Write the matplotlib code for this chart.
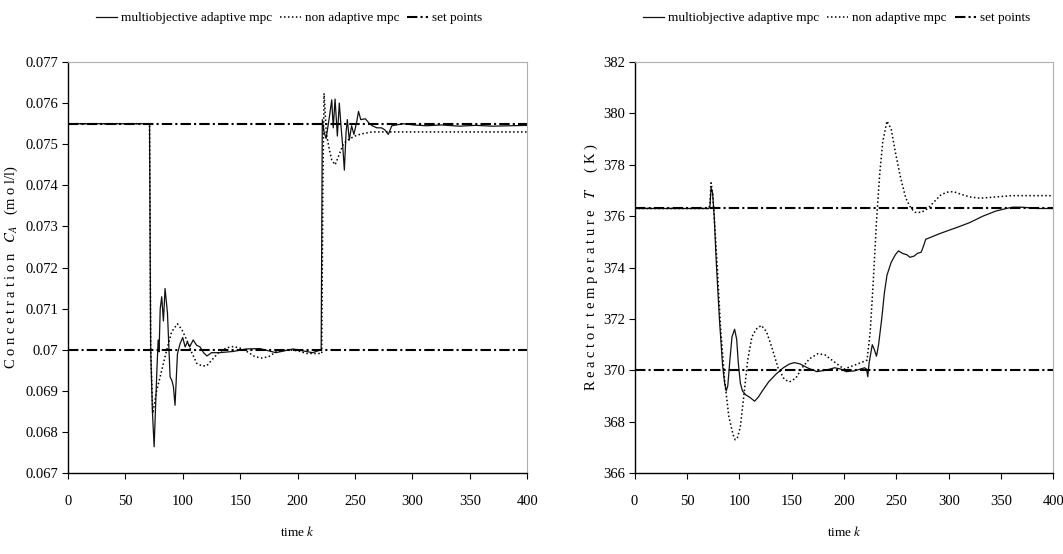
import matplotlib.pyplot as plt

plt.rcParams["font.family"] = ["Liberation Serif", "DejaVu Serif"]
plt.rcParams["mathtext.fontset"] = "stix"

# ---- left panel: concentration C_A ----
ca_adapt_k = [0, 71, 72, 73.5, 75, 77.3, 78.5, 79.3, 80.3, 81.6, 83.1, 84.5, 86.6, 88.9, 90.5,
              91.8, 93.2, 95.3, 97.6, 99.9, 102, 104, 106, 109, 112, 115, 118, 121, 125, 132,
              144, 155, 167, 181, 196, 213, 220.5, 221.5, 223, 224.8, 227.7, 229.7, 231,
              232.6, 234.6, 236.3, 237.8, 239.3, 240.7, 242.2, 243.3, 245, 247, 249, 251.5,
              253, 255, 259, 262, 265, 269, 273, 276, 279, 282, 286, 292, 301, 312, 325,
              341, 355, 370, 385, 400]
ca_adapt = [0.0755, 0.0755, 0.0700, 0.0685, 0.06764, 0.06943, 0.07024, 0.06995, 0.07100,
            0.07129, 0.07070, 0.07149, 0.07090, 0.06934, 0.06925, 0.06910, 0.06865, 0.06990,
            0.07015, 0.07030, 0.07007, 0.07019, 0.07007, 0.07024, 0.07011, 0.07007, 0.06993,
            0.06985, 0.06993, 0.06993, 0.06996, 0.07002, 0.07003, 0.06993, 0.07002, 0.06993,
            0.07000, 0.07560, 0.07530, 0.07514, 0.07567, 0.07608, 0.07540, 0.07610, 0.07520,
            0.07600, 0.07543, 0.07494, 0.07437, 0.07530, 0.07560, 0.07510, 0.07545, 0.07524,
            0.07555, 0.07580, 0.07560, 0.07562, 0.07552, 0.07545, 0.07540, 0.07540, 0.07535,
            0.07524, 0.07545, 0.07547, 0.07550, 0.07547, 0.07545, 0.07547, 0.07544, 0.07546,
            0.07544, 0.07545, 0.07546]

ca_nonad_k = [0, 71, 72, 73.8, 77.3, 80.2, 86, 90.3, 95.3, 99, 103.4, 107.8, 112.1, 116.5,
              120.8, 125.2, 131, 138.3, 144, 149.9, 155.7, 163, 168.8, 174.6, 181.8, 190.6,
              199.3, 208, 219.6, 221, 222, 223, 225, 227.7, 229.7, 232.6, 235.5, 240, 245.7,
              251.5, 257, 265, 300, 400]
ca_nonad = [0.0755, 0.0755, 0.0700, 0.06845, 0.06902, 0.06934, 0.07000, 0.07044, 0.07063,
            0.07050, 0.07024, 0.06993, 0.06967, 0.06961, 0.06961, 0.06975, 0.06993, 0.07005,
            0.07008, 0.07004, 0.06996, 0.06983, 0.06980, 0.06983, 0.06996, 0.07000, 0.06998,
            0.06991, 0.06991, 0.06991, 0.0740, 0.07624, 0.07526, 0.07486, 0.07462, 0.07450,
            0.07470, 0.07502, 0.07514, 0.07522, 0.07526, 0.07530, 0.07530, 0.07530]

ca_setpoints = [0.0755, 0.07]

# ---- right panel: reactor temperature T ----
t_adapt_k = [0, 71, 72, 73, 74.5, 76, 78, 81, 84, 86, 87.5, 89, 91, 93, 95.5, 97.5, 99, 101,
             103, 106, 110, 114.6, 118, 122, 128, 135, 142, 148, 152.8, 158, 165, 174, 182,
             191, 197, 202, 210, 219.6, 221.5, 222.7, 224, 227, 229, 231, 233, 236, 238.5,
             241, 245, 249, 252, 256, 260, 263, 267, 270, 273.7, 276, 278, 281, 290, 300, 307,
             320, 332.5, 345, 355, 361, 370, 385, 400]
t_adapt = [376.3, 376.3, 376.4, 377.1, 376.9, 376.0, 374.2, 372.0, 370.2, 369.5, 369.2, 369.4,
           370.4, 371.3, 371.6, 371.2, 370.3, 369.5, 369.2, 369.05, 368.95, 368.8, 368.95, 369.2,
           369.55, 369.85, 370.1, 370.25, 370.3, 370.25, 370.1, 369.95, 370.0, 370.1, 370.05,
           369.95, 369.98, 370.1, 370.05, 369.75, 370.3, 371.0, 370.8, 370.55, 371.0, 372.0,
           373.0, 373.7, 374.2, 374.5, 374.65, 374.55, 374.5, 374.4, 374.45, 374.55, 374.6,
           374.85, 375.1, 375.15, 375.3, 375.45, 375.55, 375.75, 376.0, 376.2, 376.3, 376.35,
           376.35, 376.3, 376.3]

t_nonad_k = [0, 71, 72, 73, 74.5, 76, 79, 82, 86, 90, 94, 96, 98, 101, 104, 108, 112, 116,
             121, 126, 131, 137, 143, 148, 154, 160, 167, 175, 182, 190, 200, 210, 222, 225,
             228, 231, 234, 237, 241, 245, 249, 254, 259, 264, 268, 274, 280, 287, 293, 300,
             305, 312, 320, 330, 345, 360, 380, 400]
t_nonad = [376.3, 376.3, 376.5, 377.3, 376.9, 376.0, 374.0, 371.7, 369.6, 368.2, 367.5, 367.3,
           367.35, 367.8, 368.9, 370.4, 371.3, 371.6, 371.75, 371.5, 370.9, 370.1, 369.65,
           369.55, 369.7, 370.1, 370.45, 370.65, 370.6, 370.35, 370.05, 370.2, 370.4, 371.5,
           373.5, 375.8, 377.6, 378.9, 379.7, 379.4, 378.5, 377.5, 376.7, 376.3, 376.15,
           376.15, 376.3, 376.6, 376.85, 376.95, 376.95, 376.85, 376.75, 376.7, 376.75, 376.8,
           376.8, 376.8]

t_setpoints = [376.3, 370]

sp_k = [0, 400]
x_ticks = list(range(0, 401, 50))
ca_ticks = [0.067, 0.068, 0.069, 0.07, 0.071, 0.072, 0.073, 0.074, 0.075, 0.076, 0.077]
ca_labels = ["0.067", "0.068", "0.069", "0.07", "0.071", "0.072", "0.073", "0.074", "0.075",
             "0.076", "0.077"]
t_ticks = list(range(366, 383, 2))

legend_names = ["multiobjective adaptive mpc", "non adaptive mpc", "set points"]


def style_axes(ax):
    ax.set_xlim(0, 400)
    ax.set_xticks(x_ticks)
    for side in ["top", "right"]:
        ax.spines[side].set_color("#b0b0b0")
    for side in ["left", "bottom"]:
        ax.spines[side].set_color("black")
        ax.spines[side].set_linewidth(1.0)
    ax.tick_params(axis="both", direction="out", length=4, width=0.8, labelsize=10.5)
    ax.tick_params(axis="x", pad=12)
    ax.tick_params(axis="y", pad=3)
    ax.set_xlabel("time $k$", fontsize=9.5, labelpad=12)


def draw(ax, k1, y1, k2, y2, sps):
    h1, = ax.plot(k1, y1, color="#111111", linewidth=0.9, label=legend_names[0])
    h2, = ax.plot(k2, y2, color="black", linestyle=(0, (1, 1.6)), linewidth=1.1,
                  label=legend_names[1])
    h3 = None
    for v in sps:
        h3, = ax.plot(sp_k, [v, v], color="black", linestyle=(0, (5, 1.5, 1, 1.5)),
                      linewidth=1.5, label=legend_names[2])
    return [h1, h2, h3]


fig = plt.figure(figsize=(10.63, 5.54), dpi=100)
ax1 = fig.add_axes([0.064, 0.146, 0.432, 0.742])
ax2 = fig.add_axes([0.597, 0.146, 0.394, 0.742])

hs = draw(ax1, ca_adapt_k, ca_adapt, ca_nonad_k, ca_nonad, ca_setpoints)
style_axes(ax1)
ax1.set_ylim(0.067, 0.077)
ax1.set_yticks(ca_ticks)
ax1.set_yticklabels(ca_labels)
ax1.set_ylabel("C o n c e t r a t i o n   $C_A$   (m o l/l)", fontsize=10.5, labelpad=4)
ax1.legend(hs, legend_names, loc="center", bbox_to_anchor=(0.272, 0.967),
           bbox_transform=fig.transFigure, ncol=3, frameon=False, fontsize=9.5,
           handlelength=1.6, handletextpad=0.3, columnspacing=0.6)

hs = draw(ax2, t_adapt_k, t_adapt, t_nonad_k, t_nonad, t_setpoints)
style_axes(ax2)
ax2.set_ylim(366, 382)
ax2.set_yticks(t_ticks)
ax2.set_ylabel("R e a c t o r  t e m p e r a t u r e   $T$     ( K )", fontsize=10.5,
               labelpad=2)
ax2.legend(hs, legend_names, loc="center", bbox_to_anchor=(0.787, 0.967),
           bbox_transform=fig.transFigure, ncol=3, frameon=False, fontsize=9.5,
           handlelength=1.6, handletextpad=0.3, columnspacing=0.6)

plt.savefig("out.png", dpi=100)
plt.close()
